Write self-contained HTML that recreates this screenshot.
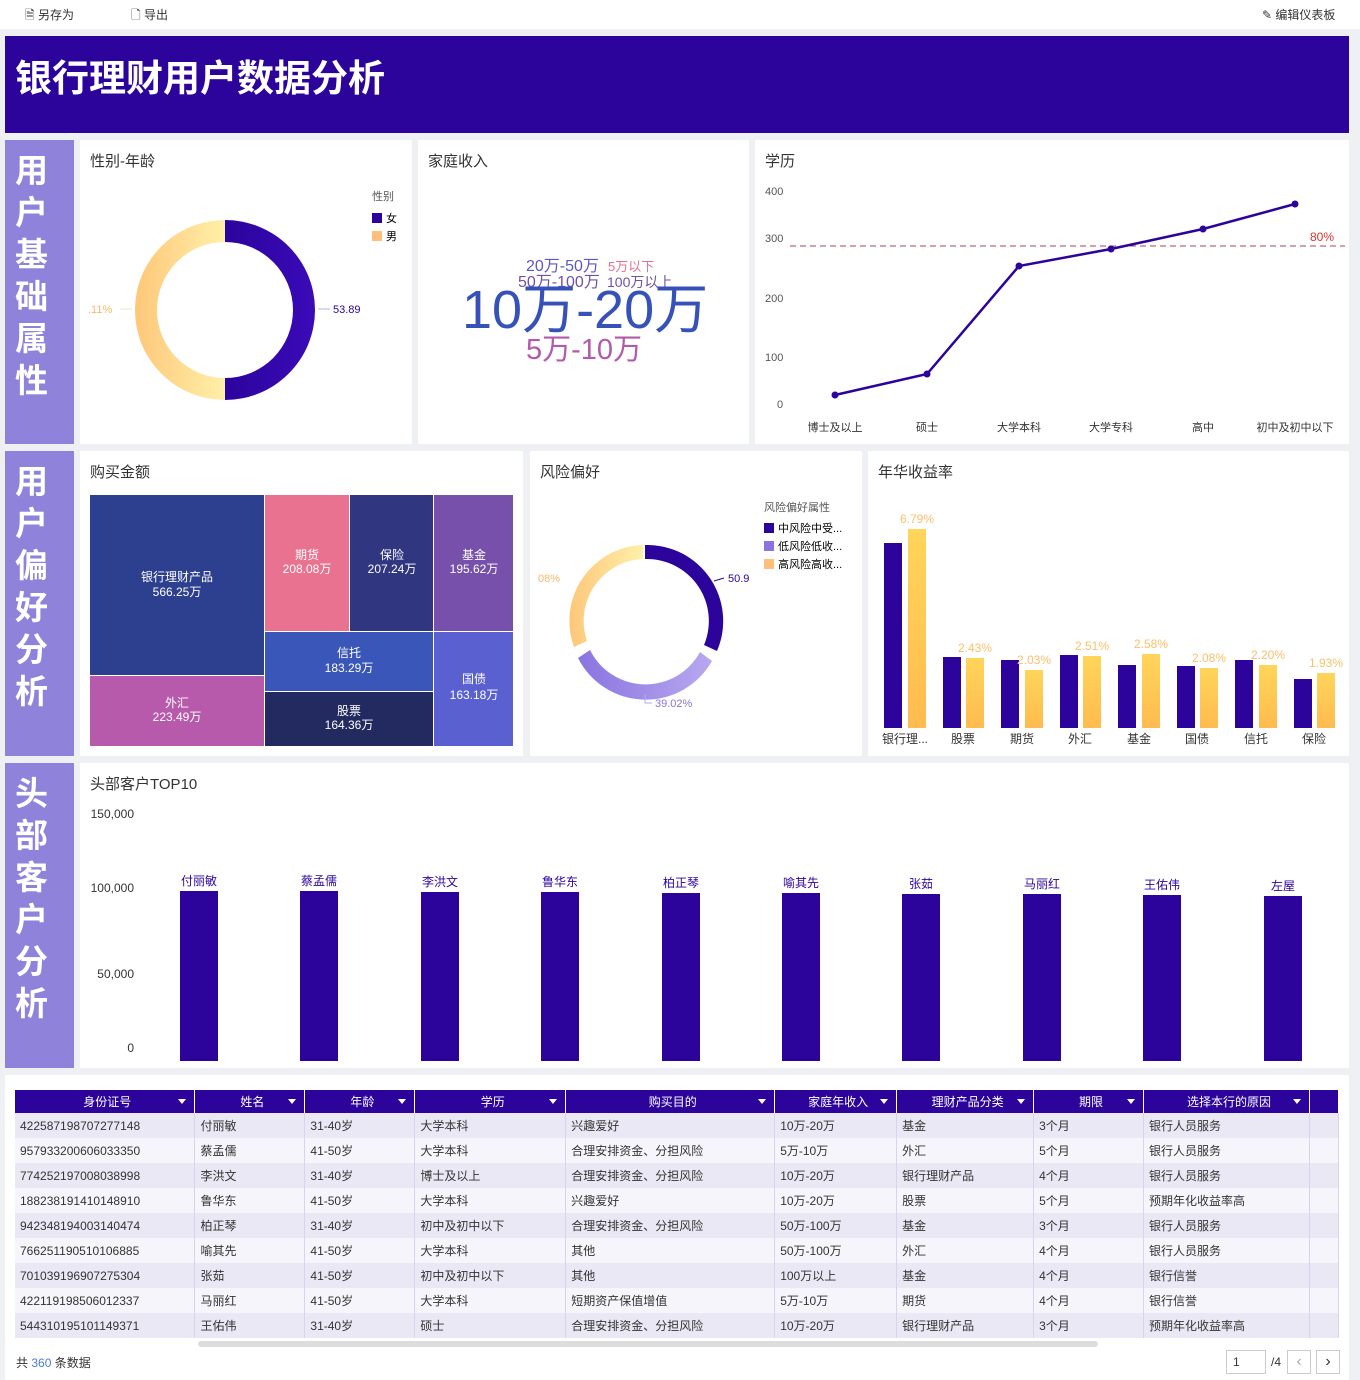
<!DOCTYPE html>
<html><head><meta charset="utf-8"><style>
*{margin:0;padding:0;box-sizing:border-box}
body{width:1360px;height:1380px;background:#eef0f4;font-family:"Liberation Sans","Noto Sans CJK SC",sans-serif;position:relative;overflow:hidden;color:#333}
.a{position:absolute}
.card{position:absolute;background:#fff}
.side{position:absolute;left:5px;width:69px;background:#8f82db;color:#fff;font-weight:bold;font-size:33px;line-height:42px;text-align:center;padding-top:10px;padding-right:16px}
.ct{position:absolute;left:10px;top:10px;font-size:15px;color:#333}
table{border-collapse:collapse;font-size:12px}
td,th{height:25px;border-right:1px solid #d8d3ee;padding-left:5px;text-align:left;font-weight:normal;white-space:nowrap}
th{background:#2c049c;color:#fff;text-align:center;height:23px;border-right:1px solid #fff;position:relative}
th.d:after{content:"";position:absolute;right:8px;top:9px;border-left:4px solid transparent;border-right:4px solid transparent;border-top:5px solid #fff}
tr:nth-child(even) td{background:#ebe8f5}
tr:nth-child(odd) td{background:#f6f5fb}
</style></head><body>
<div class="a" style="left:0;top:0;width:1360px;height:29px;background:#fff;font-size:12px">
<span class="a" style="left:25px;top:6px">🗎 另存为</span><span class="a" style="left:131px;top:6px">🗋 导出</span><span class="a" style="left:1262px;top:6px">✎ 编辑仪表板</span></div>
<div class="a" style="left:5px;top:36px;width:1344px;height:97px;background:#2c049c"><div class="a" style="left:10px;top:12px;color:#fff;font-size:37px;font-weight:bold">银行理财用户数据分析</div></div>

<div class="side" style="top:140px;height:304px">用<br>户<br>基<br>础<br>属<br>性</div>
<div class="side" style="top:451px;height:305px">用<br>户<br>偏<br>好<br>分<br>析</div>
<div class="side" style="top:763px;height:305px">头<br>部<br>客<br>户<br>分<br>析</div>

<div class="card" style="left:80px;top:140px;width:332px;height:304px"><div class="ct">性别-年龄</div>
<svg class="a" style="left:0;top:0" width="332" height="304">
<defs><linearGradient id="gy" x1="0" x2="1"><stop offset="0" stop-color="#fec77a"/><stop offset="1" stop-color="#fff0a8"/></linearGradient>
<linearGradient id="gp" x1="0" x2="1"><stop offset="0" stop-color="#2c049c"/><stop offset="1" stop-color="#3a0ab8"/></linearGradient></defs>
<path d="M145 80 A90 90 0 0 1 145 260 L145 238 A68 68 0 0 0 145 102Z" fill="url(#gp)"/>
<path d="M145 80 A90 90 0 0 0 145 260 L145 238 A68 68 0 0 1 145 102Z" fill="url(#gy)"/>
<line x1="238" y1="169" x2="250" y2="169" stroke="#b9b0e0"/><text x="253" y="173" font-size="11" fill="#2c049c">53.89</text>
<line x1="40" y1="169" x2="52" y2="169" stroke="#fde0c0"/><text x="8" y="173" font-size="11" fill="#fcb86a">.11%</text>
<text x="292" y="60" font-size="11" fill="#555">性别</text>
<rect x="292" y="73" width="10" height="10" fill="#2c049c"/><text x="306" y="82" font-size="11">女</text>
<rect x="292" y="91" width="10" height="10" fill="#fdbf7a"/><text x="306" y="100" font-size="11">男</text>
</svg></div>

<div class="card" style="left:418px;top:140px;width:331px;height:304px"><div class="ct">家庭收入</div>
<svg class="a" style="left:0;top:0" width="331" height="304">
<text x="108" y="131" font-size="16" fill="#5b58c9">20万-50万</text><text x="190" y="131" font-size="13" fill="#e5728f">5万以下</text>
<text x="100" y="147" font-size="16" fill="#7050a8">50万-100万</text><text x="189" y="147" font-size="14" fill="#7050a8">100万以上</text>
<text x="44" y="188" font-size="54" fill="#3651b8">10万-20万</text>
<text x="108" y="219" font-size="29" fill="#b25aab">5万-10万</text>
</svg></div>

<div class="card" style="left:755px;top:140px;width:594px;height:304px"><div class="ct">学历</div>
<svg class="a" style="left:0;top:0" width="594" height="304" font-size="11" fill="#555">
<text x="10" y="55">400</text><text x="10" y="102">300</text><text x="10" y="162">200</text><text x="10" y="221">100</text><text x="22" y="268">0</text>
<line x1="35" y1="106" x2="590" y2="106" stroke="#b04050" stroke-dasharray="6,4"/>
<text x="555" y="101" fill="#e03030" font-size="12">80%</text>
<polyline points="80,255 172,234 264,126 356,109 448,89 540,64" fill="none" stroke="#2c049c" stroke-width="2.5"/>
<g fill="#2c049c"><circle cx="80" cy="255" r="3.5"/><circle cx="172" cy="234" r="3.5"/><circle cx="264" cy="126" r="3.5"/><circle cx="356" cy="109" r="3.5"/><circle cx="448" cy="89" r="3.5"/><circle cx="540" cy="64" r="3.5"/></g>
<g text-anchor="middle" fill="#333"><text x="80" y="291">博士及以上</text><text x="172" y="291">硕士</text><text x="264" y="291">大学本科</text><text x="356" y="291">大学专科</text><text x="448" y="291">高中</text><text x="540" y="291">初中及初中以下</text></g>
</svg></div>

<div class="card" style="left:80px;top:451px;width:443px;height:305px"><div class="ct">购买金额</div>
<svg class="a" style="left:0;top:0" width="443" height="305" font-size="12" fill="#fff" text-anchor="middle">
<rect x="10" y="44" width="174" height="180" fill="#2d3f8f"/><text x="97" y="130">银行理财产品</text><text x="97" y="145">566.25万</text>
<rect x="185" y="44" width="84" height="136" fill="#e8728f"/><text x="227" y="108">期货</text><text x="227" y="122">208.08万</text>
<rect x="270" y="44" width="83" height="136" fill="#303680"/><text x="312" y="108">保险</text><text x="312" y="122">207.24万</text>
<rect x="354" y="44" width="79" height="136" fill="#7650ab"/><text x="394" y="108">基金</text><text x="394" y="122">195.62万</text>
<rect x="10" y="225" width="174" height="70" fill="#b85aab"/><text x="97" y="256">外汇</text><text x="97" y="270">223.49万</text>
<rect x="185" y="181" width="168" height="59" fill="#3956b8"/><text x="269" y="206">信托</text><text x="269" y="221">183.29万</text>
<rect x="185" y="241" width="168" height="54" fill="#232a60"/><text x="269" y="264">股票</text><text x="269" y="278">164.36万</text>
<rect x="354" y="181" width="79" height="114" fill="#5a60cf"/><text x="394" y="232">国债</text><text x="394" y="248">163.18万</text>
</svg></div>

<div class="card" style="left:530px;top:451px;width:332px;height:305px"><div class="ct">风险偏好</div>
<svg class="a" style="left:0;top:0" width="332" height="305" font-size="11">
<defs><linearGradient id="gy2" x1="0" x2="1"><stop offset="0" stop-color="#fec77a"/><stop offset="1" stop-color="#fff0a8"/></linearGradient>
<linearGradient id="gl" x1="0" x2="1"><stop offset="0" stop-color="#8a74e0"/><stop offset="1" stop-color="#b8a8f0"/></linearGradient></defs>
<path d="M115 94 A76 76 0 0 1 187 200 L174 194 A62 62 0 0 0 115 108Z" fill="#2c049c"/>
<path d="M182 210 A76 76 0 0 1 48 207 L60 199 A62 62 0 0 0 170 201Z" fill="url(#gl)"/>
<path d="M44 196 A76 76 0 0 1 113 94 L113 108 A62 62 0 0 0 57 190Z" fill="url(#gy2)"/>
<line x1="184" y1="130" x2="194" y2="127" stroke="#2c049c"/><text x="198" y="131" fill="#2c049c">50.9</text>
<text x="8" y="131" fill="#fcb86a">08%</text>
<path d="M115 243 L115 252 L122 252" fill="none" stroke="#b8a8f0"/><text x="125" y="256" fill="#8a74e0">39.02%</text>
<text x="234" y="60" fill="#555">风险偏好属性</text>
<rect x="234" y="72" width="10" height="10" fill="#2c049c"/><text x="248" y="81">中风险中受...</text>
<rect x="234" y="90" width="10" height="10" fill="#8a74e0"/><text x="248" y="99">低风险低收...</text>
<rect x="234" y="108" width="10" height="10" fill="#fdbf7a"/><text x="248" y="117">高风险高收...</text>
</svg></div>

<div class="card" style="left:868px;top:451px;width:481px;height:305px"><div class="ct">年华收益率</div>
<svg class="a" style="left:-868px;top:-451px" width="1349" height="756" font-size="12">
<defs><linearGradient id="by" x1="0" y1="0" x2="0" y2="1"><stop offset="0" stop-color="#ffd55a"/><stop offset="1" stop-color="#ffbb4f"/></linearGradient></defs>
<g fill="#2c049c"><rect x="884" y="543" width="18" height="185"/><rect x="943" y="657" width="18" height="71"/><rect x="1001" y="660" width="18" height="68"/><rect x="1060" y="655" width="18" height="73"/><rect x="1118" y="665" width="18" height="63"/><rect x="1177" y="666" width="18" height="62"/><rect x="1235" y="660" width="18" height="68"/><rect x="1294" y="679" width="18" height="49"/></g>
<g fill="url(#by)"><rect x="908" y="529" width="18" height="199"/><rect x="966" y="658" width="18" height="70"/><rect x="1025" y="670" width="18" height="58"/><rect x="1083" y="656" width="18" height="72"/><rect x="1142" y="654" width="18" height="74"/><rect x="1200" y="668" width="18" height="60"/><rect x="1259" y="665" width="18" height="63"/><rect x="1317" y="673" width="18" height="55"/></g>
<g fill="#fcc06a" text-anchor="middle"><text x="917" y="523">6.79%</text><text x="975" y="652">2.43%</text><text x="1034" y="664">2.03%</text><text x="1092" y="650">2.51%</text><text x="1151" y="648">2.58%</text><text x="1209" y="662">2.08%</text><text x="1268" y="659">2.20%</text><text x="1326" y="667">1.93%</text></g>
<g fill="#333" text-anchor="middle"><text x="905" y="743">银行理...</text><text x="963" y="743">股票</text><text x="1022" y="743">期货</text><text x="1080" y="743">外汇</text><text x="1139" y="743">基金</text><text x="1197" y="743">国债</text><text x="1256" y="743">信托</text><text x="1314" y="743">保险</text></g>
</svg></div>

<div class="card" style="left:80px;top:763px;width:1269px;height:305px"><div class="ct">头部客户TOP10</div>
<svg class="a" style="left:-80px;top:-763px" width="1349" height="1068" font-size="12">
<g fill="#333" text-anchor="end"><text x="134" y="818">150,000</text><text x="134" y="892">100,000</text><text x="134" y="978">50,000</text><text x="134" y="1052">0</text></g>
<g fill="#2c049c"><rect x="180" y="891" width="38" height="170"/><rect x="300" y="891" width="38" height="170"/><rect x="421" y="892" width="38" height="169"/><rect x="541" y="892" width="38" height="169"/><rect x="662" y="893" width="38" height="168"/><rect x="782" y="893" width="38" height="168"/><rect x="902" y="894" width="38" height="167"/><rect x="1023" y="894" width="38" height="167"/><rect x="1143" y="895" width="38" height="166"/><rect x="1264" y="896" width="38" height="165"/></g>
<g fill="#2c049c" text-anchor="middle"><text x="199" y="885">付丽敏</text><text x="319" y="885">蔡孟儒</text><text x="440" y="886">李洪文</text><text x="560" y="886">鲁华东</text><text x="681" y="887">柏正琴</text><text x="801" y="887">喻其先</text><text x="921" y="888">张茹</text><text x="1042" y="888">马丽红</text><text x="1162" y="889">王佑伟</text><text x="1283" y="890">左屋</text></g>
</svg></div>

<div class="card" style="left:5px;top:1075px;width:1344px;height:305px">
<table class="a" style="left:10px;top:15px;width:1324px">
<tr><th class="d" style="width:180px">身份证号</th><th class="d" style="width:110px">姓名</th><th class="d" style="width:110px">年龄</th><th class="d" style="width:151px">学历</th><th class="d" style="width:209px">购买目的</th><th class="d" style="width:122px">家庭年收入</th><th class="d" style="width:137px">理财产品分类</th><th class="d" style="width:110px">期限</th><th class="d" style="width:166px">选择本行的原因</th><th style="width:29px"></th></tr>
<tr><td>422587198707277148</td><td>付丽敏</td><td>31-40岁</td><td>大学本科</td><td>兴趣爱好</td><td>10万-20万</td><td>基金</td><td>3个月</td><td>银行人员服务</td><td></td></tr>
<tr><td>957933200606033350</td><td>蔡孟儒</td><td>41-50岁</td><td>大学本科</td><td>合理安排资金、分担风险</td><td>5万-10万</td><td>外汇</td><td>5个月</td><td>银行人员服务</td><td></td></tr>
<tr><td>774252197008038998</td><td>李洪文</td><td>31-40岁</td><td>博士及以上</td><td>合理安排资金、分担风险</td><td>10万-20万</td><td>银行理财产品</td><td>4个月</td><td>银行人员服务</td><td></td></tr>
<tr><td>188238191410148910</td><td>鲁华东</td><td>41-50岁</td><td>大学本科</td><td>兴趣爱好</td><td>10万-20万</td><td>股票</td><td>5个月</td><td>预期年化收益率高</td><td></td></tr>
<tr><td>942348194003140474</td><td>柏正琴</td><td>31-40岁</td><td>初中及初中以下</td><td>合理安排资金、分担风险</td><td>50万-100万</td><td>基金</td><td>3个月</td><td>银行人员服务</td><td></td></tr>
<tr><td>766251190510106885</td><td>喻其先</td><td>41-50岁</td><td>大学本科</td><td>其他</td><td>50万-100万</td><td>外汇</td><td>4个月</td><td>银行人员服务</td><td></td></tr>
<tr><td>701039196907275304</td><td>张茹</td><td>41-50岁</td><td>初中及初中以下</td><td>其他</td><td>100万以上</td><td>基金</td><td>4个月</td><td>银行信誉</td><td></td></tr>
<tr><td>422119198506012337</td><td>马丽红</td><td>41-50岁</td><td>大学本科</td><td>短期资产保值增值</td><td>5万-10万</td><td>期货</td><td>4个月</td><td>银行信誉</td><td></td></tr>
<tr><td>544310195101149371</td><td>王佑伟</td><td>31-40岁</td><td>硕士</td><td>合理安排资金、分担风险</td><td>10万-20万</td><td>银行理财产品</td><td>3个月</td><td>预期年化收益率高</td><td></td></tr>
</table>
<div class="a" style="left:193px;top:266px;width:900px;height:6px;border-radius:3px;background:#ddd"></div>
<div class="a" style="left:11px;top:279px;font-size:12px">共 <span style="color:#4a7be0">360</span> 条数据</div>
<div class="a" style="left:1221px;top:275px;width:40px;height:24px;border:1px solid #ccc;font-size:12px;padding:4px 6px">1</div>
<div class="a" style="left:1266px;top:280px;font-size:12px">/4</div>
<div class="a" style="left:1282px;top:275px;width:24px;height:24px;border:1px solid #ccc;text-align:center;color:#aaa;line-height:22px">‹</div>
<div class="a" style="left:1311px;top:275px;width:24px;height:24px;border:1px solid #ccc;text-align:center;line-height:22px">›</div>
</div>
</body></html>
